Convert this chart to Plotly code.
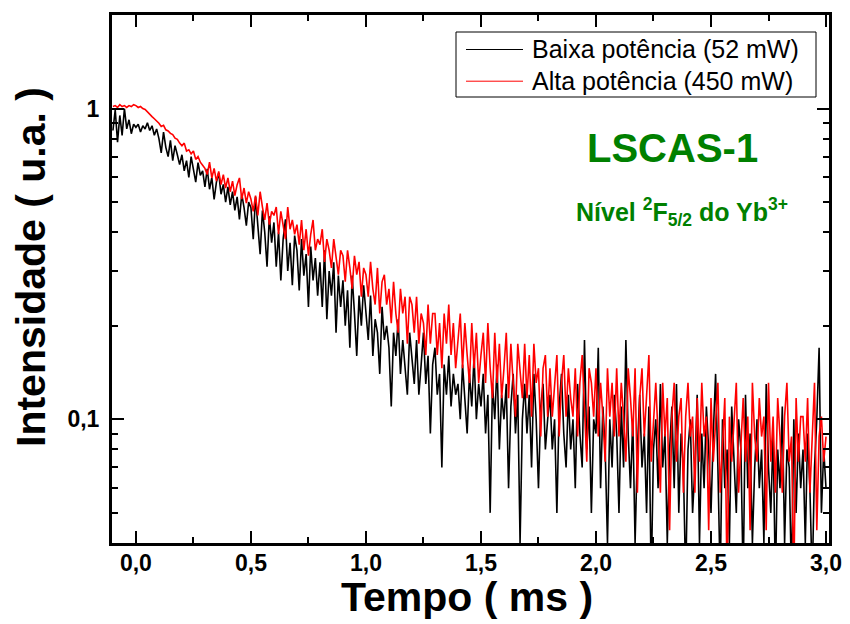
import plotly.graph_objects as go

# time axis (ms), one sample every 0.01 ms from -0.10 to 3.00
tempo = [round(-0.10 + 0.01 * i, 2) for i in range(311)]

# Baixa potência (52 mW) - black
baixa = [
    0.85, 0.99, 0.78, 0.95, 0.82, 1.00, 0.86, 0.92, 0.83, 0.89,
    0.87, 0.89, 0.84, 0.88, 0.86, 0.90, 0.85, 0.88, 0.82, 0.86,
    0.80, 0.72, 0.84, 0.75, 0.70, 0.79, 0.68, 0.76, 0.71, 0.66,
    0.71, 0.63, 0.68, 0.60, 0.70, 0.64, 0.58, 0.67, 0.61, 0.63,
    0.56, 0.64, 0.55, 0.60, 0.51, 0.58, 0.62, 0.53, 0.57, 0.50,
    0.56, 0.49, 0.54, 0.47, 0.52, 0.44, 0.53, 0.48, 0.42, 0.50,
    0.48, 0.38, 0.52, 0.42, 0.34, 0.47, 0.40, 0.31, 0.45, 0.37,
    0.43, 0.31, 0.40, 0.28, 0.38, 0.44, 0.30, 0.37, 0.27, 0.39,
    0.35, 0.26, 0.38, 0.29, 0.34, 0.23, 0.36, 0.28, 0.33, 0.25,
    0.32, 0.23, 0.35, 0.21, 0.30, 0.25, 0.32, 0.19, 0.29, 0.23,
    0.28, 0.20, 0.26, 0.17, 0.29, 0.22, 0.16, 0.25, 0.20, 0.27,
    0.22, 0.18, 0.25, 0.16, 0.21, 0.19, 0.14, 0.23, 0.18, 0.20,
    0.17, 0.11, 0.19, 0.16, 0.21, 0.14, 0.18, 0.15, 0.12, 0.19,
    0.16, 0.13, 0.18, 0.12, 0.15, 0.19, 0.13, 0.16, 0.09, 0.15,
    0.17, 0.12, 0.14, 0.07, 0.15, 0.12, 0.16, 0.11, 0.14, 0.12,
    0.13, 0.10, 0.15, 0.12, 0.09, 0.14, 0.11, 0.16, 0.10, 0.13,
    0.11, 0.14, 0.09, 0.12, 0.05, 0.13, 0.10, 0.15, 0.08, 0.12,
    0.10, 0.13, 0.06, 0.11, 0.14, 0.09, 0.12, 0.04, 0.10, 0.13,
    0.09, 0.12, 0.07, 0.14, 0.10, 0.06, 0.11, 0.13, 0.08, 0.10,
    0.12, 0.08, 0.10, 0.05, 0.11, 0.14, 0.09, 0.07, 0.12, 0.08,
    0.10, 0.06, 0.13, 0.09, 0.07, 0.18, 0.08, 0.11, 0.05, 0.10,
    0.09, 0.17, 0.06, 0.11, 0.08, 0.04, 0.10, 0.07, 0.12, 0.09,
    0.05, 0.11, 0.07, 0.18, 0.09, 0.06, 0.10, 0.04, 0.08, 0.12,
    0.07, 0.09, 0.05, 0.11, 0.03, 0.08, 0.10, 0.06, 0.13, 0.07,
    0.09, 0.04, 0.08, 0.11, 0.06, 0.13, 0.05, 0.09, 0.07, 0.03,
    0.08, 0.10, 0.05, 0.07, 0.12, 0.04, 0.09, 0.06, 0.11, 0.08,
    0.05, 0.09, 0.14, 0.07, 0.03, 0.10, 0.06, 0.08, 0.04, 0.11,
    0.07, 0.05, 0.10, 0.08, 0.03, 0.12, 0.06, 0.09, 0.04, 0.07,
    0.10, 0.06, 0.08, 0.04, 0.13, 0.07, 0.05, 0.09, 0.03, 0.08,
    0.06, 0.11, 0.04, 0.08, 0.07, 0.03, 0.10, 0.05, 0.09, 0.06,
    0.08, 0.04, 0.09, 0.06, 0.03, 0.07, 0.10, 0.17, 0.05, 0.08,
    0.06,
]

# Alta potência (450 mW) - red
alta = [
    1.015, 1.022, 1.008, 1.029, 1.015, 1.022, 1.008, 1.022, 1.015, 1.029,
    1.022, 1.008, 1.015, 1.000, 0.993, 0.978, 0.963, 0.942, 0.927, 0.912,
    0.897, 0.876, 0.883, 0.854, 0.847, 0.832, 0.825, 0.803, 0.796, 0.774,
    0.759, 0.774, 0.730, 0.737, 0.715, 0.730, 0.686, 0.701, 0.672, 0.657,
    0.642, 0.613, 0.672, 0.598, 0.642, 0.584, 0.628, 0.569, 0.613, 0.555,
    0.598, 0.540, 0.584, 0.525, 0.569, 0.598, 0.511, 0.555, 0.496, 0.540,
    0.511, 0.467, 0.525, 0.453, 0.540, 0.482, 0.438, 0.496, 0.423, 0.467,
    0.453, 0.482, 0.394, 0.467, 0.423, 0.380, 0.482, 0.409, 0.438, 0.394,
    0.423, 0.365, 0.438, 0.350, 0.409, 0.336, 0.394, 0.438, 0.350, 0.380,
    0.365, 0.409, 0.321, 0.380, 0.350, 0.307, 0.380, 0.336, 0.292, 0.350,
    0.336, 0.277, 0.350, 0.307, 0.263, 0.336, 0.292, 0.321, 0.248, 0.307,
    0.292, 0.248, 0.321, 0.263, 0.234, 0.307, 0.219, 0.277, 0.292, 0.234,
    0.263, 0.204, 0.277, 0.219, 0.190, 0.263, 0.219, 0.248, 0.175, 0.248,
    0.234, 0.190, 0.248, 0.175, 0.219, 0.204, 0.161, 0.234, 0.175, 0.219,
    0.219, 0.161, 0.204, 0.146, 0.219, 0.175, 0.234, 0.161, 0.204, 0.146,
    0.175, 0.219, 0.146, 0.204, 0.161, 0.131, 0.204, 0.146, 0.190, 0.131,
    0.161, 0.190, 0.131, 0.204, 0.146, 0.117, 0.190, 0.131, 0.175, 0.117,
    0.146, 0.190, 0.117, 0.175, 0.131, 0.102, 0.175, 0.146, 0.117, 0.175,
    0.117, 0.161, 0.102, 0.175, 0.131, 0.146, 0.088, 0.146, 0.161, 0.102,
    0.146, 0.102, 0.131, 0.161, 0.088, 0.131, 0.161, 0.102, 0.146, 0.117,
    0.102, 0.146, 0.088, 0.131, 0.161, 0.102, 0.073, 0.146, 0.131, 0.102,
    0.146, 0.088, 0.131, 0.102, 0.073, 0.146, 0.102, 0.131, 0.088, 0.146,
    0.088, 0.131, 0.102, 0.073, 0.146, 0.117, 0.088, 0.146, 0.058, 0.117,
    0.146, 0.088, 0.117, 0.161, 0.073, 0.102, 0.131, 0.088, 0.058, 0.131,
    0.088, 0.117, 0.044, 0.102, 0.131, 0.073, 0.102, 0.117, 0.058, 0.102,
    0.131, 0.088, 0.102, 0.058, 0.117, 0.073, 0.131, 0.088, 0.102, 0.044,
    0.117, 0.073, 0.102, 0.131, 0.058, 0.088, 0.117, 0.029, 0.102, 0.073,
    0.102, 0.131, 0.058, 0.088, 0.117, 0.073, 0.102, 0.044, 0.131, 0.088,
    0.073, 0.117, 0.088, 0.102, 0.044, 0.131, 0.073, 0.102, 0.058, 0.117,
    0.088, 0.058, 0.102, 0.131, 0.073, 0.088, 0.029, 0.117, 0.073, 0.102,
    0.102, 0.073, 0.117, 0.058, 0.088, 0.131, 0.044, 0.088, 0.102, 0.073,
    0.088,
]

x_ticks = [0.0, 0.5, 1.0, 1.5, 2.0, 2.5, 3.0]
x_ticktext = ["0,0", "0,5", "1,0", "1,5", "2,0", "2,5", "3,0"]
x_minor = [0.25, 0.75, 1.25, 1.75, 2.25, 2.75]
y_ticks = [0.1, 1]
y_ticktext = ["0,1", "1"]
y_minor = [0.05, 0.06, 0.07, 0.08, 0.09, 0.2, 0.3, 0.4, 0.5, 0.6, 0.7, 0.8, 0.9]

legend_names = ["Baixa potência (52 mW)", "Alta potência (450 mW)"]
legend_colors = ["black", "red"]

# the page body adds an 8 px margin, so the figure is 8 px smaller
OFF = 8
W, H = 850 - OFF, 624 - OFF
# plot area in window pixels: x 112..829, y 15..543
ML, MR, MT, MB = 112 - OFF, 21, 15 - OFF, 81
PW, PH = W - ML - MR, H - MT - MB


def px(xp):
    # window pixel x -> paper coordinate
    return (xp - OFF - ML) / PW


def py(yp):
    # window pixel y -> paper coordinate
    return 1 - (yp - OFF - MT) / PH


fig = go.Figure()
fig.add_trace(go.Scatter(x=tempo, y=baixa, mode="lines", name=legend_names[0],
                         line=dict(color=legend_colors[0], width=1.6), showlegend=False))
fig.add_trace(go.Scatter(x=tempo, y=alta, mode="lines", name=legend_names[1],
                         line=dict(color=legend_colors[1], width=1.6), showlegend=False))

FONT = "Liberation Sans"
fig.update_layout(
    width=W, height=H,
    margin=dict(l=ML, r=MR, t=MT, b=MB, autoexpand=False),
    paper_bgcolor="white", plot_bgcolor="white",
    hovermode=False,
    xaxis=dict(
        range=[-0.104, 3.013], tickmode="array", tickvals=x_ticks, ticktext=x_ticktext,
        ticks="inside", ticklen=12, tickwidth=2, tickcolor="black",
        showline=True, linewidth=3, linecolor="black", mirror="ticks",
        showgrid=False, zeroline=False, automargin=False, ticklabelstandoff=-3,
        minor=dict(tickmode="array", tickvals=x_minor, ticks="inside", ticklen=6,
                   tickwidth=2, tickcolor="black", showgrid=False),
        tickfont=dict(family=FONT, size=23, color="black", weight="bold"),
    ),
    yaxis=dict(
        type="log", range=[-1.398, 0.301], tickmode="array", tickvals=y_ticks, ticktext=y_ticktext,
        ticks="inside", ticklen=12, tickwidth=2, tickcolor="black",
        showline=True, linewidth=3, linecolor="black", mirror="ticks",
        showgrid=False, zeroline=False, automargin=False, ticklabelstandoff=5,
        minor=dict(tickmode="array", tickvals=y_minor, ticks="inside", ticklen=6,
                   tickwidth=2, tickcolor="black", showgrid=False),
        tickfont=dict(family=FONT, size=23, color="black", weight="bold"),
    ),
)

# axis titles
fig.add_annotation(text="Tempo ( ms )", xref="paper", yref="paper", x=px(467), y=py(597),
                   xanchor="center", yanchor="middle", showarrow=False,
                   font=dict(family=FONT, size=41, color="black", weight="bold"))
fig.add_annotation(text="Intensidade ( u.a. )", xref="paper", yref="paper", x=px(31), y=py(267),
                   xanchor="center", yanchor="middle", showarrow=False, textangle=-90,
                   font=dict(family=FONT, size=41, color="black", weight="bold"))

# legend box drawn by hand (as in the original)
fig.add_shape(type="rect", xref="paper", yref="paper",
              x0=px(456), x1=px(816), y0=py(32), y1=py(97),
              line=dict(color="black", width=1), fillcolor="white", layer="above")
for i, (name, col) in enumerate(zip(legend_names, legend_colors)):
    yc = 49.5 + 31.7 * i
    fig.add_shape(type="line", xref="paper", yref="paper",
                  x0=px(466), x1=px(523), y0=py(yc), y1=py(yc),
                  line=dict(color=col, width=1), layer="above")
    fig.add_annotation(text=name, xref="paper", yref="paper", x=px(530), y=py(yc),
                       xanchor="left", yanchor="middle", showarrow=False,
                       font=dict(family=FONT, size=25, color="black"))

fig.add_annotation(text="LSCAS-1", xref="paper", yref="paper", x=px(672), y=py(148),
                   xanchor="center", yanchor="middle", showarrow=False,
                   font=dict(family=FONT, size=40, color="#008000", weight="bold"))
fig.add_annotation(text="Nível <sup>2</sup>F<sub>5/2</sub> do Yb<sup>3+</sup>",
                   xref="paper", yref="paper", x=px(682), y=py(212),
                   xanchor="center", yanchor="middle", showarrow=False,
                   font=dict(family=FONT, size=25, color="#008000", weight="bold"))

fig.write_html("out.html")
